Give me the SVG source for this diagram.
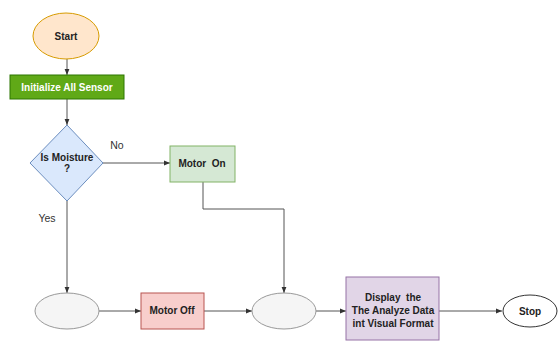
<svg xmlns="http://www.w3.org/2000/svg" width="558" height="341" viewBox="0 0 558 341">
<style>
text{font-family:"Liberation Sans",Arial,sans-serif;font-size:10px;font-weight:bold;fill:#222;text-anchor:middle}
.lbl{font-weight:normal;fill:#333;font-size:10.5px}
.conn{fill:none;stroke:#555;stroke-width:1}
</style>
<defs>
<marker id="ah" viewBox="0 0 10 10" refX="10" refY="5" markerWidth="6" markerHeight="6" orient="auto" markerUnits="userSpaceOnUse">
<path d="M0,1 L10,5 L0,9 Z" fill="#333"/>
</marker>
</defs>
<rect width="558" height="341" fill="#fff"/>
<g id="connectors">
<path class="conn" d="M67,59 V75" marker-end="url(#ah)"/>
<path class="conn" d="M67,99 V125" marker-end="url(#ah)"/>
<path class="conn" d="M103,163 H170" marker-end="url(#ah)"/>
<path class="conn" d="M67,201 V293" marker-end="url(#ah)"/>
<path class="conn" d="M203,182 V209 H284 V293" marker-end="url(#ah)"/>
<path class="conn" d="M99,311 H141" marker-end="url(#ah)"/>
<path class="conn" d="M204,311 H252" marker-end="url(#ah)"/>
<path class="conn" d="M316,311 H346" marker-end="url(#ah)"/>
<path class="conn" d="M439,311 H502" marker-end="url(#ah)"/>
<text class="lbl" x="117" y="149">No</text>
<text class="lbl" x="47" y="222">Yes</text>
</g>
<g id="start">
<ellipse cx="66" cy="36" rx="33" ry="23" fill="#FFE6CC" stroke="#D79B00" stroke-width="1"/>
<text x="66" y="40">Start</text>
</g>
<g id="init">
<rect x="10" y="75" width="114" height="24" fill="#60A917" stroke="#2D7600" stroke-width="1"/>
<text x="67" y="91" style="fill:#fff">Initialize All Sensor</text>
</g>
<g id="decision">
<path d="M67,125 L103,163 L67,201 L30,163 Z" fill="#DAE8FC" stroke="#6C8EBF" stroke-width="1"/>
<text x="67" y="161">Is Moisture</text>
<text x="67" y="172">?</text>
</g>
<g id="motorOn">
<rect x="170" y="146" width="65" height="36" fill="#D5E8D4" stroke="#82B366" stroke-width="1"/>
<text x="202" y="167">Motor&#160; On</text>
</g>
<g id="leftEllipse">
<ellipse cx="67" cy="311" rx="32" ry="18" fill="#F5F5F5" stroke="#999" stroke-width="1"/>
</g>
<g id="motorOff">
<rect x="141" y="293" width="63" height="36" fill="#F8CECC" stroke="#B85450" stroke-width="1"/>
<text x="172" y="314">Motor Off</text>
</g>
<g id="midEllipse">
<ellipse cx="284" cy="311" rx="32" ry="18" fill="#F5F5F5" stroke="#999" stroke-width="1"/>
</g>
<g id="display">
<rect x="346" y="277" width="93" height="63" fill="#E1D5E7" stroke="#9673A6" stroke-width="1"/>
<text x="393" y="301">Display&#160; the</text>
<text x="393" y="314">The Analyze Data</text>
<text x="393" y="327">int Visual Format</text>
</g>
<g id="stop">
<ellipse cx="530" cy="311" rx="27" ry="16" fill="#fff" stroke="#333" stroke-width="1"/>
<text x="530" y="315">Stop</text>
</g>
</svg>
